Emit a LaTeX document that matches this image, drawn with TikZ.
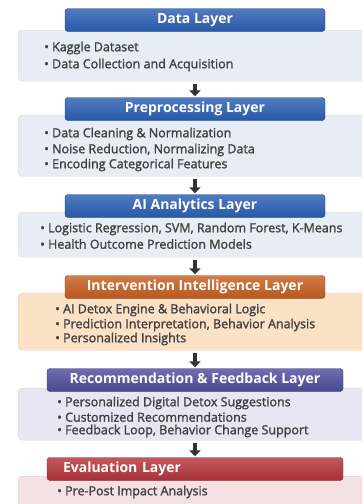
\documentclass[tikz,border=0pt]{standalone}
\usepackage{fontspec}
\newfontfamily\layerfont{Open Sans}
\newfontfamily\itemfont{Open Sans}[FakeBold=1.5]
\usetikzlibrary{arrows.meta}

\definecolor{barblue}{HTML}{2B5FB4}
\definecolor{barorange}{HTML}{C65F22}
\definecolor{barpurple}{HTML}{4F4E9E}
\definecolor{barred}{HTML}{B5343C}
\definecolor{panelblue}{HTML}{E7ECF5}
\definecolor{panelorange}{HTML}{FBE2C6}
\definecolor{panelpurple}{HTML}{E7E6F2}
\definecolor{panelred}{HTML}{F4E1E3}
\definecolor{itemgray}{HTML}{404040}

\tikzset{
  layer/.style={rounded corners=3pt, draw=#1!75!black, top color=#1!82!white,
    bottom color=#1!92!black, text=white, inner sep=0pt, minimum height=23pt,
    font=\layerfont\bfseries\fontsize{14}{14}\selectfont},
  panel/.style={rounded corners=4pt, draw=#1!82!gray, fill=#1, anchor=north west,
    minimum width=362pt, inner sep=0pt},
  item/.style={anchor=west, inner sep=0pt, text=itemgray,
    font=\itemfont\fontsize{12.5}{12.5}\selectfont},
  flow/.style={line width=3.5pt, draw=black!80, -{Triangle[width=11pt,length=6pt]},
    shorten <=3pt, shorten >=1pt},
}

\begin{document}
\begin{tikzpicture}[x=1pt,y=-1pt]
  \clip (0,0) rectangle (362,504);
  \fill[white] (0,0) rectangle (362,504);

  \node[panel=panelblue, minimum height=51pt] (data) at (18,30) {};
  \node[layer=barblue, minimum width=260pt] (dataT) at (195,20) {Data Layer};
  \node[item] (d1) at (44,48) {• Kaggle Dataset};
  \node[item] (d2) at (44,65) {• Data Collection and Acquisition};

  \node[panel=panelblue, minimum height=61pt] (prep) at (18,115) {};
  \node[layer=barblue, minimum width=260pt] (prepT) at (195,109) {Preprocessing Layer};
  \node[item] (p1) at (44,134) {• Data Cleaning \& Normalization};
  \node[item] (p2) at (44,150) {• Noise Reduction, Normalizing Data};
  \node[item] (p3) at (44,165) {• Encoding Categorical Features};

  \node[panel=panelblue, minimum height=45pt] (ai) at (18,212) {};
  \node[layer=barblue, minimum width=260pt] (aiT) at (195,206) {AI Analytics Layer};
  \node[item] (a1) at (40,229) {• Logistic Regression, SVM, Random Forest, K-Means};
  \node[item] (a2) at (40,244) {• Health Outcome Prediction Models};

  \node[panel=panelorange, minimum height=57pt] (iv) at (18,293) {};
  \node[layer=barorange, minimum width=260pt] (ivT) at (195,287) {Intervention Intelligence Layer};
  \node[item] (i1) at (55,310) {• AI Detox Engine \& Behavioral Logic};
  \node[item] (i2) at (55,325) {• Prediction Interpretation, Behavior Analysis};
  \node[item] (i3) at (55,339) {• Personalized Insights};

  \node[panel=panelpurple, minimum height=52pt] (rec) at (18,388) {};
  \node[layer=barpurple, minimum width=296pt] (recT) at (195,380) {Recommendation \& Feedback Layer};
  \node[item] (r1) at (57,403) {• Personalized Digital Detox Suggestions};
  \node[item] (r2) at (57,417) {• Customized Recommendations};
  \node[item] (r3) at (57,431) {• Feedback Loop, Behavior Change Support};

  \node[panel=panelred, minimum height=44pt] (eval) at (18,476) {};
  \node[layer=barred, minimum width=296pt, text width=264pt, align=left] (evalT) at (195,469) {Evaluation Layer};
  \node[item] (e1) at (57,492) {• Pre-Post Impact Analysis};

  \draw[flow] (data.south -| prepT) -- (prepT.north);
  \draw[flow] (prep.south -| aiT) -- (aiT.north);
  \draw[flow] (ai.south -| ivT) -- (ivT.north);
  \draw[flow] (iv.south -| recT) -- (recT.north);
  \draw[flow] (rec.south -| evalT) -- (evalT.north);
\end{tikzpicture}
\end{document}
